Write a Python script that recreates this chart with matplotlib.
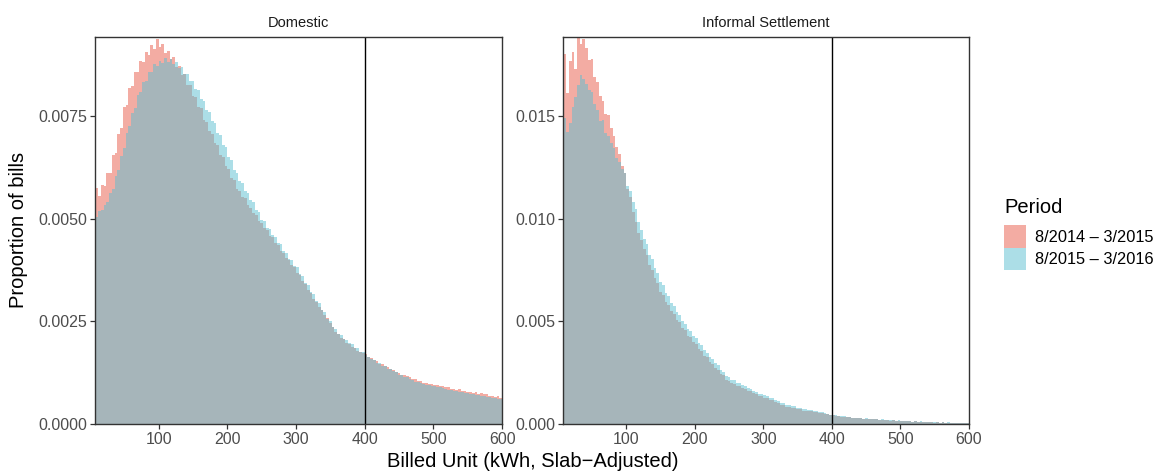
import numpy as np
import matplotlib
matplotlib.use("Agg")
import matplotlib.pyplot as plt
from matplotlib.patches import Patch

plt.rcParams['font.family'] = ['Liberation Sans', 'DejaVu Sans']

# histogram bins (kWh), 4 kWh wide, shown from ~8 to 600
bin_edges = np.arange(8, 604, 4)

# proportion of bills per bin, in units of 1e-5
domestic_2014 = [
    575, 555, 582, 579, 610, 612, 655, 660, 705, 720,
    772, 776, 818, 822, 856, 858, 884, 880, 905, 899,
    922, 914, 938, 918, 925, 902, 908, 888, 893, 868,
    871, 850, 852, 826, 825, 799, 796, 771, 768, 740,
    735, 712, 707, 683, 679, 655, 650, 628, 621, 600,
    593, 571, 568, 552, 549, 533, 525, 514, 509, 495,
    490, 477, 472, 458, 454, 441, 436, 422, 417, 404,
    399, 386, 381, 368, 362, 348, 341, 327, 319, 304,
    297, 285, 277, 265, 257, 245, 237, 225, 219, 210,
    206, 198, 195, 188, 185, 178, 176, 172, 171, 164,
    161, 155, 153, 147, 146, 140, 139, 134, 132, 126,
    125, 120, 119, 116, 115, 110, 109, 105, 105, 101,
    101, 97, 98, 94, 95, 92, 93, 89, 89, 86,
    86, 83, 84, 81, 81, 78, 79, 76, 77, 74,
    75, 72, 72, 69, 69, 66, 67, 64,
]
domestic_2015 = [
    505, 518, 520, 534, 540, 562, 572, 603, 618, 652,
    671, 708, 726, 758, 770, 800, 808, 832, 836, 858,
    858, 876, 872, 884, 879, 892, 882, 889, 876, 882,
    866, 870, 852, 853, 836, 834, 815, 812, 790, 786,
    764, 760, 738, 733, 709, 703, 680, 674, 650, 642,
    618, 611, 592, 587, 568, 563, 545, 540, 521, 515,
    497, 494, 478, 475, 459, 456, 440, 437, 421, 417,
    402, 399, 385, 382, 365, 360, 343, 338, 321, 316,
    299, 294, 277, 272, 256, 251, 237, 232, 220, 217,
    207, 205, 196, 195, 185, 184, 176, 175, 169, 163,
    157, 155, 149, 148, 142, 140, 135, 134, 128, 126,
    120, 119, 115, 114, 109, 108, 103, 103, 99, 98,
    95, 95, 92, 92, 89, 89, 87, 86, 83, 83,
    80, 80, 78, 78, 75, 75, 73, 73, 71, 71,
    69, 69, 66, 66, 63, 63, 61, 61,
]
informal_2014 = [
    1800, 1610, 1770, 1810, 1730, 1880, 1850, 1875, 1830, 1775,
    1780, 1690, 1665, 1600, 1575, 1510, 1505, 1440, 1405, 1350,
    1315, 1255, 1225, 1145, 1105, 1035, 985, 930, 895, 850,
    825, 775, 750, 710, 685, 645, 630, 595, 580, 548,
    535, 505, 495, 466, 456, 430, 422, 398, 390, 366,
    357, 332, 324, 301, 294, 272, 265, 244, 237, 215,
    210, 199, 197, 186, 184, 174, 171, 161, 159, 149,
    147, 138, 137, 129, 127, 118, 117, 106, 103, 94,
    93, 85, 85, 78, 78, 71, 71, 65, 65, 61,
    61, 57, 57, 53, 53, 49, 48, 44, 44, 40,
    39, 35, 35, 32, 32, 29, 30, 27, 28, 25,
    26, 24, 25, 22, 23, 20, 21, 18, 19, 17,
    18, 15, 17, 14, 15, 13, 14, 11, 13, 10,
    12, 9, 11, 8, 10, 7, 9, 6, 8, 6,
    7, 5, 6, 4, 5, 4, 5, 3,
]
informal_2015 = [
    1490, 1420, 1465, 1545, 1595, 1650, 1700, 1680, 1655, 1625,
    1615, 1560, 1530, 1475, 1480, 1415, 1405, 1370, 1345, 1295,
    1275, 1240, 1225, 1160, 1135, 1080, 1045, 985, 945, 900,
    875, 825, 805, 760, 735, 690, 675, 640, 625, 590,
    575, 545, 532, 502, 488, 463, 452, 430, 418, 394,
    383, 358, 348, 327, 318, 297, 288, 265, 253, 232,
    227, 216, 212, 201, 199, 188, 184, 173, 170, 159,
    157, 148, 147, 139, 137, 129, 127, 116, 113, 103,
    102, 94, 94, 86, 86, 79, 79, 73, 73, 67,
    67, 62, 62, 58, 58, 53, 51, 46, 46, 42,
    41, 37, 37, 33, 34, 30, 31, 28, 29, 26,
    27, 25, 26, 23, 24, 21, 22, 19, 20, 18,
    19, 16, 18, 15, 16, 14, 15, 12, 14, 11,
    13, 10, 12, 9, 11, 8, 10, 7, 9, 6,
    8, 6, 7, 5, 6, 4, 5, 4,
]

periods = ['8/2014 \u2013 3/2015', '8/2015 \u2013 3/2016']
panel_titles = ['Domestic', 'Informal Settlement']
x_ticks = [100, 200, 300, 400, 500, 600]
dom_yticks = [0.0, 0.0025, 0.0050, 0.0075]
inf_yticks = [0.0, 0.005, 0.010, 0.015]
cutoff = 400

red = '#E95B49'
blue = '#5BBFD1'
alpha = 0.5

fig = plt.figure(figsize=(11.55, 4.72), dpi=100)
ax1 = fig.add_axes([0.0823, 0.1017, 0.3524, 0.8199])
ax2 = fig.add_axes([0.4874, 0.1017, 0.3515, 0.8199])

panels = [
    (ax1, domestic_2014, domestic_2015, dom_yticks, '{:.4f}', 0.00942),
    (ax2, informal_2014, informal_2015, inf_yticks, '{:.3f}', 0.01885),
]

for (ax, v14, v15, yt, fmt, ymax), title in zip(panels, panel_titles):
    left = bin_edges[:-1]
    ax.bar(left, np.array(v14) * 1e-5, width=4, align='edge', color=red,
           alpha=alpha, linewidth=0)
    ax.bar(left, np.array(v15) * 1e-5, width=4, align='edge', color=blue,
           alpha=alpha, linewidth=0)
    ax.axvline(cutoff, color='black', lw=1.0)
    ax.set_xlim(7.5, 600)
    ax.set_ylim(0, ymax)
    ax.set_xticks(x_ticks)
    ax.set_yticks(yt)
    ax.set_yticklabels([fmt.format(v) for v in yt])
    ax.tick_params(direction='out', length=3.5, width=0.9, color='#333333',
                   labelsize=11.5, labelcolor='#4D4D4D', pad=2)
    for s in ax.spines.values():
        s.set_color('#333333')
        s.set_linewidth(1.0)
    ax.set_title(title, fontsize=10.5, pad=7, color='#1A1A1A')

fig.text(0.016, 0.513, 'Proportion of bills', rotation=90, ha='center',
         va='center', fontsize=14.5)
fig.text(0.461, 0.022, 'Billed Unit (kWh, Slab\u2212Adjusted)', ha='center',
         va='center', fontsize=14.5)

handles = [Patch(facecolor=red, alpha=alpha, linewidth=0),
           Patch(facecolor=blue, alpha=alpha, linewidth=0)]
leg = fig.legend(handles, periods, title='Period', loc='upper left',
                 bbox_to_anchor=(0.8635, 0.595), frameon=False, fontsize=11.8,
                 title_fontsize=14.5, handlelength=1.35, handleheight=1.75,
                 labelspacing=0.0, handletextpad=0.55, borderaxespad=0)
leg._legend_box.align = 'left'
leg._legend_box.sep = 6

fig.savefig('out.png', dpi=100)
